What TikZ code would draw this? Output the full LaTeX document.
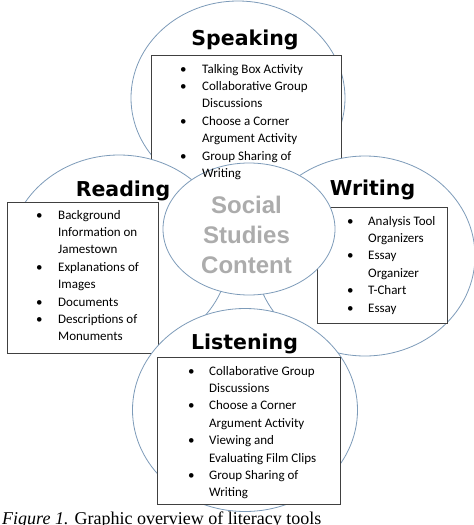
\documentclass[tikz,border=0pt]{standalone}
\usepackage{fontspec}
\setmainfont{Carlito}
\newfontfamily\titlefont{DejaVu Sans}
\newfontfamily\centerfont{Liberation Sans}
\newfontfamily\capfont{Liberation Serif}
\usetikzlibrary{shapes.geometric}
\definecolor{ringcol}{RGB}{125,155,185}
\definecolor{boxcol}{RGB}{64,64,64}
\definecolor{ctextcol}{RGB}{172,172,172}
\tikzset{
  ringshape/.style={ellipse, draw=ringcol, line width=0.8pt, fill=white, inner sep=0pt},
  boxshape/.style={rectangle, draw=boxcol, line width=1.1pt, fill=white, inner sep=0pt, anchor=north west},
  titletext/.style={anchor=base, inner sep=0pt, font=\titlefont\bfseries\fontsize{20.5}{24}\selectfont},
  listtext/.style={anchor=base west, inner sep=0pt, font=\fontsize{13}{17.4}\selectfont},
  centertext/.style={anchor=base, inner sep=0pt, text=ctextcol, font=\centerfont\bfseries\fontsize{24}{30}\selectfont},
}
\begin{document}
\begin{tikzpicture}[x=1pt, y=-1pt]
\useasboundingbox (0,0) rectangle (474,525);
% Speaking ring and box (bottom layer)
\node[ringshape, minimum width=214pt, minimum height=194pt] (spkring) at (238,98) {};
\node[boxshape, minimum width=190pt, minimum height=145pt] (spkbox) at (151,55) {};
% Reading and Writing rings
\node[ringshape, minimum width=220pt, minimum height=198pt] (rdring) at (119,254) {};
\node[ringshape, minimum width=220pt, minimum height=200pt] (wrring) at (365,256) {};
% Reading box
\node[boxshape, minimum width=151pt, minimum height=151pt] (rdbox) at (7,202) {};
\node[titletext] (rdtitle) at (123,196) {Reading};
\node[listtext] (rdlist) at (36,219) {\begin{tabular}[t]{@{}p{22pt}@{}l@{}}
\textbullet & Background\\
 & Information on\\
 & Jamestown\\
\textbullet & Explanations of\\
 & Images\\
\textbullet & Documents\\
\textbullet & Descriptions of\\
 & Monuments
\end{tabular}};
% Writing box
\node[boxshape, minimum width=130pt, minimum height=116pt] (wrbox) at (317,207) {};
\node[titletext] (wrtitle) at (372.5,195) {Writing};
\node[listtext] (wrlist) at (347,225) {\begin{tabular}[t]{@{}p{21pt}@{}l@{}}
\textbullet & Analysis Tool\\
 & Organizers\\
\textbullet & Essay\\
 & Organizer\\
\textbullet & T-Chart\\
\textbullet & Essay
\end{tabular}};
% Centre
\node[ringshape, minimum width=172pt, minimum height=132pt] (core) at (249,229) {};
\node[centertext] (social) at (246.5,213.5) {Social};
\node[centertext] (studies) at (246.5,243.5) {Studies};
\node[centertext] (content) at (246.5,273.5) {Content};
% Listening
\node[ringshape, minimum width=225pt, minimum height=203pt] (lsring) at (245,410) {};
\node[boxshape, minimum width=183pt, minimum height=147pt] (lsbox) at (157,357) {};
\node[titletext] (lstitle) at (244.5,349) {Listening};
\node[listtext] (lslist) at (188,375) {\begin{tabular}[t]{@{}p{21pt}@{}l@{}}
\textbullet & Collaborative Group\\
 & Discussions\\
\textbullet & Choose a Corner\\
 & Argument Activity\\
\textbullet & Viewing and\\
 & Evaluating Film Clips\\
\textbullet & Group Sharing of\\
 & Writing
\end{tabular}};
% Speaking text on top
\node[titletext] (sptitle) at (245,45) {Speaking};
\node[listtext] (splist) at (180,73) {\begin{tabular}[t]{@{}p{22pt}@{}l@{}}
\textbullet & Talking Box Activity\\
\textbullet & Collaborative Group\\
 & Discussions\\
\textbullet & Choose a Corner\\
 & Argument Activity\\
\textbullet & Group Sharing of\\
 & Writing
\end{tabular}};
% Caption (at the page edge, as in the reference)
\node[anchor=base west, inner sep=0pt, font=\capfont\fontsize{18}{22}\selectfont] (caption) at (2,524) {\textit{Figure 1.} Graphic overview of literacy tools};
\end{tikzpicture}
\end{document}
